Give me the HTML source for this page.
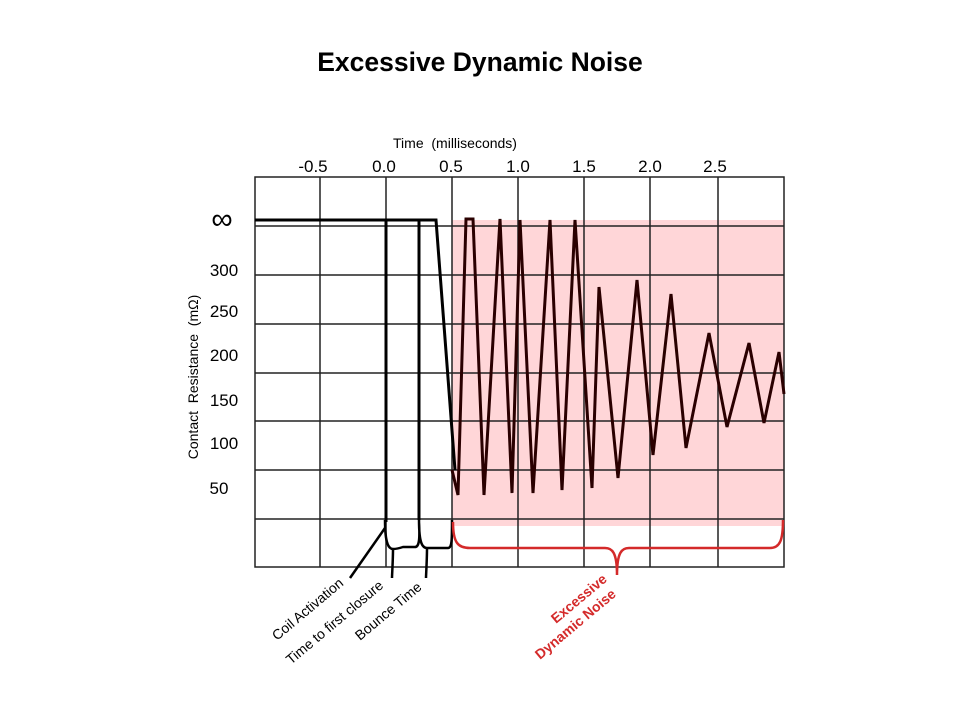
<!DOCTYPE html>
<html><head><meta charset="utf-8"><style>
body{margin:0;background:#fff;width:960px;height:720px;overflow:hidden}
text{white-space:pre}
</style></head><body>
<svg width="960" height="720" xmlns="http://www.w3.org/2000/svg" font-family="Liberation Sans, Arial, sans-serif">
<text x="480" y="71" text-anchor="middle" font-size="26.5" font-weight="bold">Excessive Dynamic Noise</text>
<text x="455" y="148" text-anchor="middle" font-size="14" xml:space="preserve">Time  (milliseconds)</text>
<g font-size="17" text-anchor="middle">
<text x="313" y="172">-0.5</text><text x="384" y="172">0.0</text><text x="451" y="172">0.5</text>
<text x="518" y="172">1.0</text><text x="584" y="172">1.5</text><text x="650" y="172">2.0</text><text x="715" y="172">2.5</text>
</g>
<rect x="452" y="220" width="332" height="306" fill="#ffd6d8"/>
<g stroke="#222" stroke-width="1.5" fill="none">
<rect x="255" y="177" width="529" height="390"/>
<path d="M320 177V567M386 177V567M452 177V567M518 177V567M584 177V567M650 177V567M718 177V567"/>
<path d="M255 226H784M255 275H784M255 324H784M255 373H784M255 421H784M255 470H784M255 519H784"/>
</g>
<text x="222" y="229" text-anchor="middle" font-size="30">∞</text>
<g font-size="17" text-anchor="middle">
<text x="224" y="276">300</text><text x="224" y="317">250</text><text x="224" y="361">200</text>
<text x="224" y="406">150</text><text x="224" y="449">100</text><text x="219" y="494">50</text>
</g>
<text transform="translate(198,377) rotate(-90)" text-anchor="middle" font-size="14" xml:space="preserve">Contact  Resistance  (mΩ)</text>
<g stroke="#000" stroke-width="3" fill="none">
<path d="M255 220H436L455 470"/>
<path d="M386 220V522M419 220V520"/>
</g>
<path d="M452 470L458 495L466 219L473 219L484 495L500 219L512 493L520 220L533 493L550 220L562 490L575 220L592 488L599 287L618 478L637 280L653 455L671 294L686 448L709 333L727 427L749 343L764 423L779 352L784 394" stroke="#2a0000" stroke-width="3" fill="none"/>
<g stroke="#000" stroke-width="2.5" fill="none">
<path d="M385 520C385 545 389 549 393 549C393 560 392 575 392 578M393 549C397 549 400 548 403 547H415C419 547 420 540 419 522M419 520C419 545 423 548 427 548C427 560 426 575 426 578M427 548H448C452 548 452 540 452 520"/>
<path d="M385 528L350 578"/>
</g>
<path d="M453 522C453 543 458 548 470 548H605C612 548 617 552 617 575M617 575C617 552 622 548 629 548H770C780 548 783 540 783 520" stroke="#d42a2a" stroke-width="2.5" fill="none"/>
<g font-size="14">
<text transform="translate(277,641) rotate(-40)">Coil Activation</text>
<text transform="translate(291,665) rotate(-40)">Time to first closure</text>
<text transform="translate(360,641) rotate(-40)">Bounce Time</text>
</g>
<g font-size="14" font-weight="bold" fill="#d42a2a">
<text transform="translate(556,624) rotate(-40)">Excessive</text>
<text transform="translate(540,660) rotate(-40)">Dynamic Noise</text>
</g>
</svg>
</body></html>
